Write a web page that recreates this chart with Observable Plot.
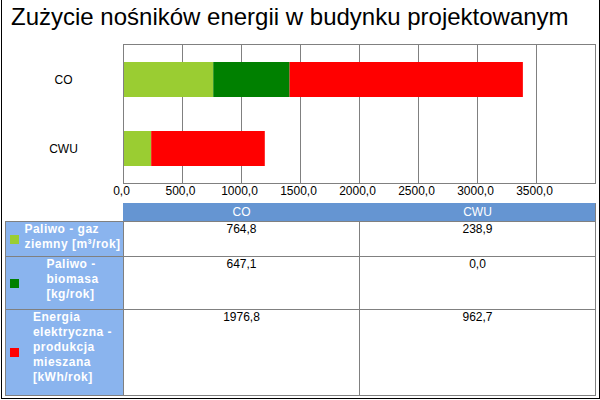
<!DOCTYPE html>
<html>
<head>
<meta charset="utf-8">
<script src="https://cdn.jsdelivr.net/npm/d3@7"></script>
<script src="https://cdn.jsdelivr.net/npm/@observablehq/plot@0.6"></script>
<style>
  html, body { margin: 0; padding: 0; background: #fff; }
  body { font-family: "Liberation Sans", Arial, sans-serif; }
  #root { position: relative; width: 600px; height: 400px; overflow: hidden; background: #fff; }
  #frame { position: absolute; left: 1px; top: -2px; width: 599px; height: 401px; box-sizing: border-box; border: 1px solid #000; pointer-events: none; }
  #title { position: absolute; left: 11px; top: 3px; font-size: 24px; color: #000; white-space: nowrap; }
  #chart { position: absolute; left: 0; top: 30px; }
  .cell { position: absolute; box-sizing: border-box; border: 1px solid #808080; font-size: 12px; }
  .hdr { background: #6595d2; color: #fff; text-align: center; line-height: 16px; border-color: #6595d2; border-right-color: #808080; }
  .val { background: #fff; color: #000; text-align: center; line-height: 15px; }
  .lab { background: #8ab4ee; color: #fff; font-weight: bold; letter-spacing: 0.5px; line-height: 15px; }
  .sw { position: absolute; width: 9px; height: 9px; }
  .labtext { position: absolute; left: 16px; right: 0; top: 0; display: flex; justify-content: center; }
  .labtext div { white-space: pre; text-align: left; }
</style>
</head>
<body>
<div id="root">
  <div id="title"></div>
  <div id="chart"></div>
  <div id="table"></div>
  <div id="frame"></div>
</div>
<script>
// ---- data ----
const titleText = "Zużycie nośników energii w budynku projektowanym";
const categories = ["CO", "CWU"];
const seriesLabels = [
  "Paliwo - gaz\nziemny [m³/rok]",
  "Paliwo -\nbiomasa\n[kg/rok]",
  "Energia\nelektryczna -\nprodukcja\nmieszana\n[kWh/rok]"
];
const gazValues = [764.8, 238.9];
const biomasaValues = [647.1, 0.0];
const energiaValues = [1976.8, 962.7];
const seriesColors = ["#9acd32", "#008000", "#ff0000"];
const xTicks = [0, 500, 1000, 1500, 2000, 2500, 3000, 3500];
const xMax = 4000;

const seriesValues = [gazValues, biomasaValues, energiaValues];
const fmt = v => v.toFixed(1).replace(".", ",");

document.getElementById("title").textContent = titleText;

// long-format table for stacking
const rows = [];
seriesLabels.forEach((s, si) => {
  categories.forEach((c, ci) => {
    rows.push({cat: c, series: s, value: seriesValues[si][ci]});
  });
});

const chart = Plot.plot({
  width: 600,
  height: 173,
  marginLeft: 123,
  marginRight: 5,
  marginTop: 14,
  marginBottom: 20,
  style: {fontFamily: '"Liberation Sans", Arial, sans-serif', fontSize: "12px", background: "transparent", color: "#000"},
  x: {domain: [0, xMax], ticks: xTicks, tickFormat: fmt, label: null},
  y: {domain: categories, paddingInner: 0.5, paddingOuter: 0.25, axis: null, label: null},
  color: {domain: seriesLabels, range: seriesColors},
  marks: [
    Plot.gridX(xTicks, {stroke: "#808080", strokeOpacity: 1, strokeWidth: 1}),
    Plot.barX(rows, Plot.stackX({y: "cat", x: "value", fill: "series", order: null})),
    Plot.frame({stroke: "#808080", strokeWidth: 1}),
    Plot.axisX({ticks: xTicks, tickFormat: fmt, tickSize: 0, tickPadding: 3, dx: -2, fontSize: 12, fill: "#000", label: null}),
    Plot.text(categories, {y: d => d, text: d => d, frameAnchor: "left", dx: -60, textAnchor: "middle", fontSize: 12, fill: "#000"})
  ]
});
document.getElementById("chart").appendChild(chart);

// ---- data table ----
const colEdges = [5, 123, 359, 595];
const rowEdges = [203, 221, 256, 309, 395];
const table = document.getElementById("table");
function cell(cls, x0, y0, x1, y1) {
  const d = document.createElement("div");
  d.className = "cell " + cls;
  d.style.left = x0 + "px";
  d.style.top = y0 + "px";
  d.style.width = (x1 - x0 + 1) + "px";
  d.style.height = (y1 - y0 + 1) + "px";
  table.appendChild(d);
  return d;
}
categories.forEach((c, ci) => {
  const d = cell("hdr", colEdges[ci + 1], rowEdges[0], colEdges[ci + 2], rowEdges[1]);
  d.textContent = c;
});
seriesLabels.forEach((s, si) => {
  const y0 = rowEdges[si + 1], y1 = rowEdges[si + 2];
  const lab = cell("lab", colEdges[0], y0, colEdges[1], y1);
  const sw = document.createElement("div");
  sw.className = "sw";
  sw.style.background = seriesColors[si];
  sw.style.left = "4px";
  sw.style.top = Math.round((y1 - y0) / 2 - 5) + "px";
  lab.appendChild(sw);
  const tw = document.createElement("div");
  tw.className = "labtext";
  const inner = document.createElement("div");
  inner.textContent = s;
  tw.appendChild(inner);
  lab.appendChild(tw);
  categories.forEach((c, ci) => {
    const v = cell("val", colEdges[ci + 1], y0, colEdges[ci + 2], y1);
    v.textContent = fmt(seriesValues[si][ci]);
  });
});
</script>
</body>
</html>
